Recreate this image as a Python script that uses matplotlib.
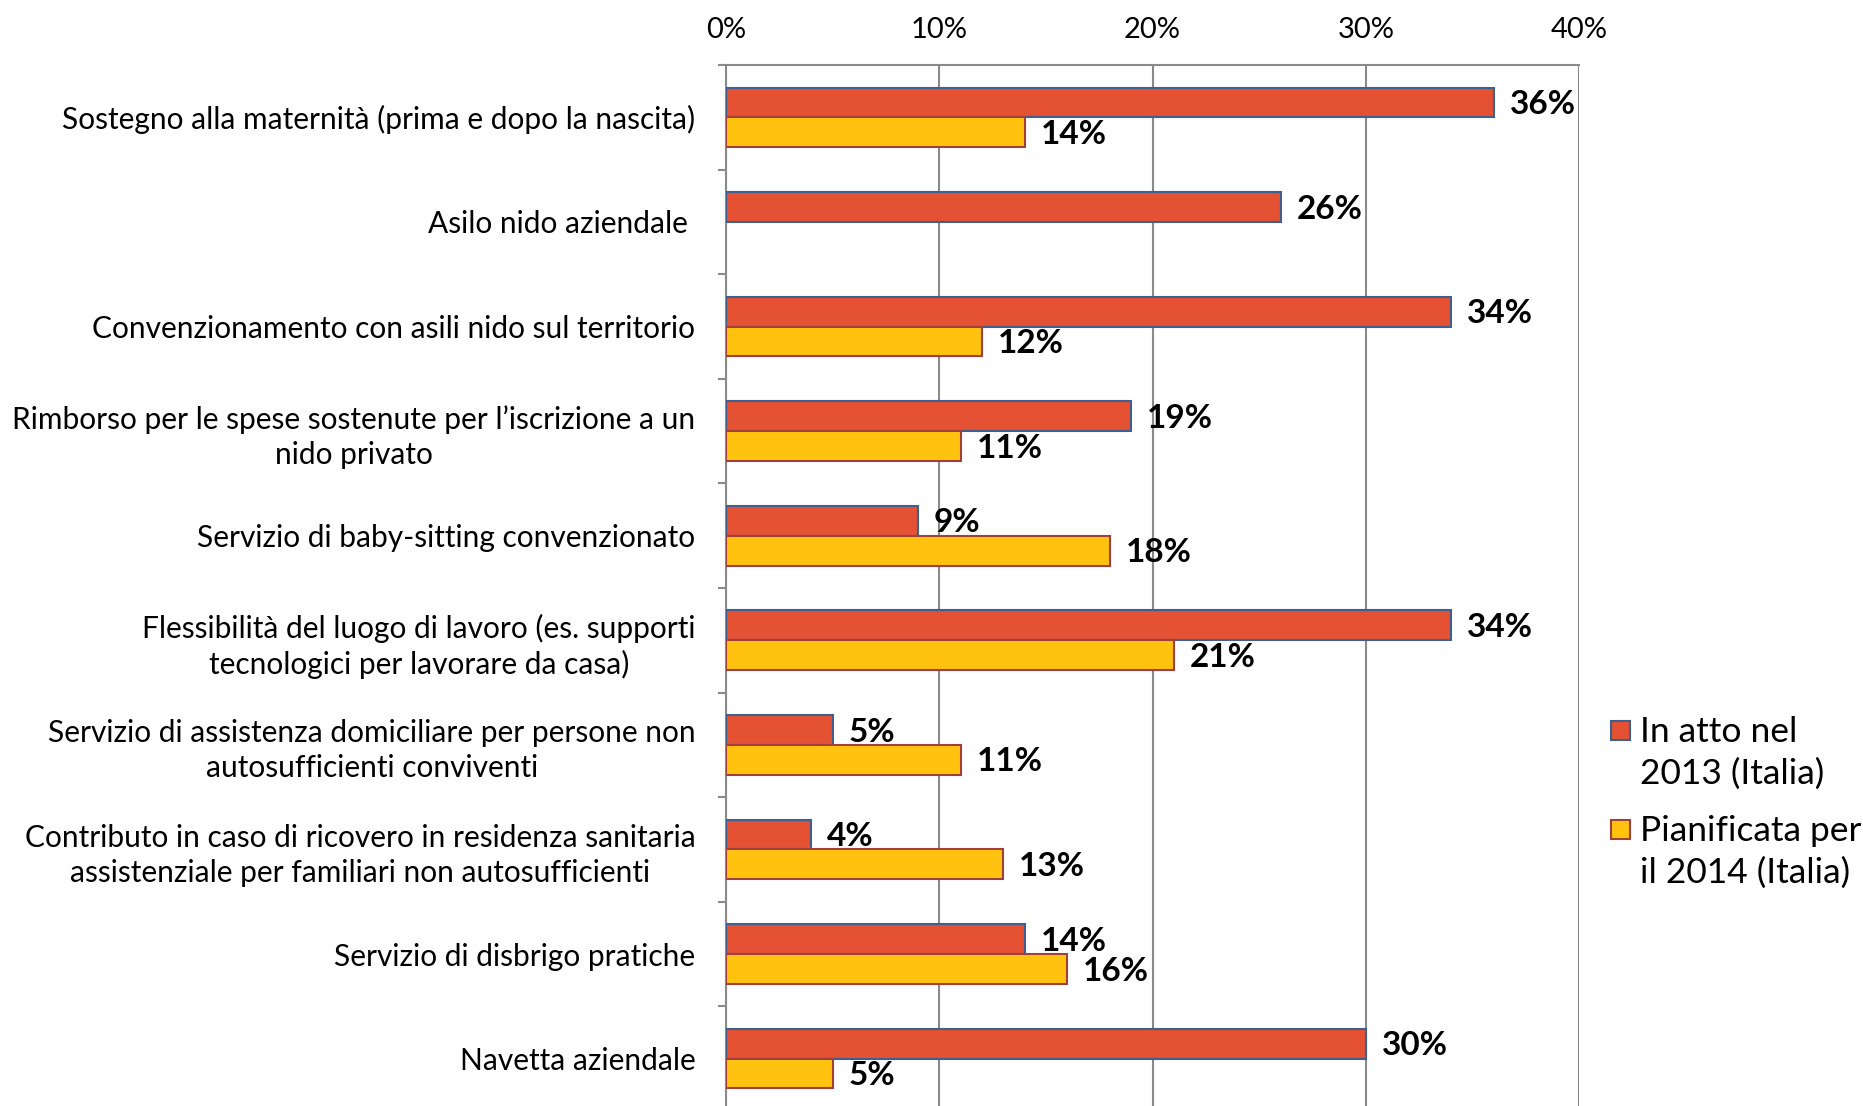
import numpy as np
import matplotlib.pyplot as plt
from matplotlib.patches import Rectangle
from matplotlib.ticker import FixedLocator, PercentFormatter

plt.rcParams['font.family'] = ['Lato', 'DejaVu Sans']

# categories and values (percent)
categories = [
    "Sostegno alla maternità (prima e dopo la nascita)",
    "Asilo nido aziendale ",
    "Convenzionamento con asili nido sul territorio",
    "Rimborso per le spese sostenute per l\u2019iscrizione a un\nnido privato",
    "Servizio di baby-sitting convenzionato",
    "Flessibilità del luogo di lavoro (es. supporti\ntecnologici per lavorare da casa)",
    "Servizio di assistenza domiciliare per persone non\nautosufficienti conviventi",
    "Contributo in caso di ricovero in residenza sanitaria\nassistenziale per familiari non autosufficienti",
    "Servizio di disbrigo pratiche",
    "Navetta aziendale",
]
in_atto_2013 = [36, 26, 34, 19, 9, 34, 5, 4, 14, 30]
pianificata_2014 = [14, None, 12, 11, 18, 21, 11, 13, 16, 5]
series_names = ["In atto nel\n2013 (Italia)", "Pianificata per\nil 2014 (Italia)"]
xticks = [0, 10, 20, 30, 40]

red, red_edge = "#E45133", "#3F5F8F"
yellow, yellow_edge = "#FFC30F", "#A0403A"
grey = "#8A8A8A"

fig = plt.figure(figsize=(18.63, 11.06), dpi=100)
ax = fig.add_axes([0.3897, -0.0045, 0.4579, 0.9457])

y = np.arange(len(categories))
h = 0.285

v1 = np.array(in_atto_2013, dtype=float)
v2 = np.array([np.nan if v is None else v for v in pianificata_2014])

b1 = ax.barh(y - h / 2, v1, height=h, color=red, edgecolor=red_edge, linewidth=1.5,
             zorder=3)
b2 = ax.barh(y + h / 2, np.nan_to_num(v2), height=h, color=yellow, edgecolor=yellow_edge,
             linewidth=1.5, zorder=3)
# no bar for missing value
for rect, v in zip(b2, v2):
    if np.isnan(v):
        rect.set_visible(False)

for yy, v in zip(y - h / 2, v1):
    ax.text(v + 0.75, yy + 0.02, f"{v:.0f}%", va="center", ha="left", fontsize=24,
            fontweight="bold")
for yy, v in zip(y + h / 2, v2):
    if not np.isnan(v):
        ax.text(v + 0.75, yy + 0.02, f"{v:.0f}%", va="center", ha="left", fontsize=24,
                fontweight="bold")

ax.set_xlim(0, 40)
ax.set_ylim(len(categories) - 0.5, -0.5)
ax.xaxis.set_major_locator(FixedLocator(xticks))
ax.xaxis.set_major_formatter(PercentFormatter(decimals=0))
ax.xaxis.tick_top()
ax.tick_params(axis="x", length=0, pad=16, labelsize=21)
ax.grid(axis="x", color=grey, linewidth=1.5, zorder=0)

ax.set_yticks(y)
ax.set_yticklabels(categories, fontsize=21.5, ha="right", multialignment="center",
                   linespacing=1.3)
ax.set_yticks(np.arange(len(categories) + 1) - 0.5, minor=True)
ax.tick_params(axis="y", which="major", length=0, pad=22)
ax.tick_params(axis="y", which="minor", length=6, width=1.5, color=grey, left=True)

for s in ["right", "bottom"]:
    ax.spines[s].set_visible(False)
for s in ["left", "top"]:
    ax.spines[s].set_color(grey)
    ax.spines[s].set_linewidth(1.5)

# legend: square aligned with first text line
W, H = 1863, 1106
leg = [(red, red_edge, 730, 753), (yellow, yellow_edge, 829, 852)]
for (fc, ec, sq_y, txt_y), name in zip(leg, series_names):
    fig.add_artist(Rectangle((1611 / W, 1 - (sq_y + 9.5) / H), 19 / W, 19 / H,
                             facecolor=fc, edgecolor=ec, linewidth=1.5,
                             transform=fig.transFigure))
    fig.text(1640 / W, 1 - txt_y / H, name, fontsize=25.5, va="center", ha="left",
             linespacing=1.35)

fig.savefig("out.png", dpi=100)
